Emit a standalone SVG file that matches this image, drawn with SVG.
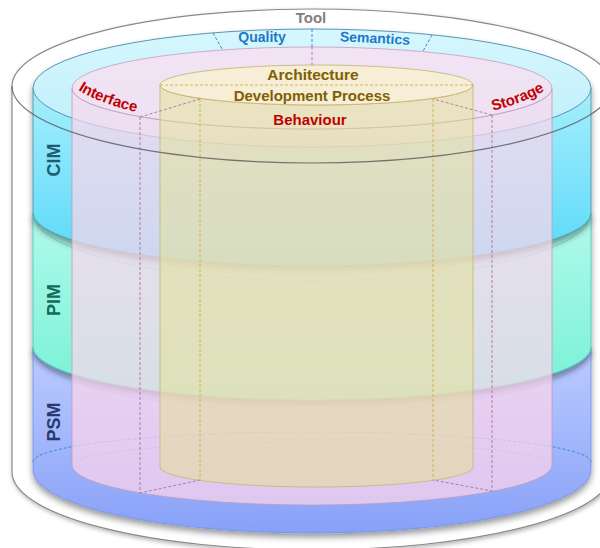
<svg xmlns="http://www.w3.org/2000/svg" width="600" height="548" viewBox="0 0 600 548">
<defs>
<filter id="sh" x="-10%" y="-10%" width="120%" height="130%"><feDropShadow dx="0" dy="4" stdDeviation="3" flood-color="#000" flood-opacity="0.4"/></filter>
<filter id="tsh" x="-10%" y="-10%" width="120%" height="120%"><feDropShadow dx="1" dy="2" stdDeviation="2" flood-color="#000" flood-opacity="0.3"/></filter>
<linearGradient id="gCIM" gradientUnits="userSpaceOnUse" x1="0" y1="88" x2="0" y2="266"><stop offset="0" stop-color="#a6eefc"/><stop offset="1" stop-color="#58d9f8"/></linearGradient>
<linearGradient id="gCIMtop" gradientUnits="userSpaceOnUse" x1="0" y1="29" x2="0" y2="147"><stop offset="0" stop-color="#d6f7fd"/><stop offset="1" stop-color="#bdeffb"/></linearGradient>
<linearGradient id="gPIM" gradientUnits="userSpaceOnUse" x1="0" y1="213" x2="0" y2="400"><stop offset="0" stop-color="#b2f9ec"/><stop offset="1" stop-color="#76f1d6"/></linearGradient>
<linearGradient id="gPSM" gradientUnits="userSpaceOnUse" x1="0" y1="347" x2="0" y2="533"><stop offset="0" stop-color="#bccbfe"/><stop offset="1" stop-color="#88a1f8"/></linearGradient>
<path id="arcL" d="M62,68 A250,62 0 0,0 312,130"/>
<path id="arcR" d="M312,130 A250,62 0 0,0 562,68"/>
</defs>
<style>
.lbl{font-family:"Liberation Sans",Arial,sans-serif;font-weight:bold;text-anchor:middle}
.arc{font-family:"Liberation Sans",Arial,sans-serif;font-weight:bold;font-size:15px;fill:#c00000}
.pd{fill:none;stroke:#b0709a;stroke-width:0.9;stroke-dasharray:3,2}
.yd{fill:none;stroke:#d4ac48;stroke-width:0.9;stroke-dasharray:3,2}
.bd{fill:none;stroke:#3a8ad0;stroke-width:1;stroke-dasharray:3,2}
</style>
<g id="tool">
<path d="M12,86 L12,472 A300,78 0 0,0 612,472 L612,86 A300,77 0 0,0 12,86 Z" fill="#fff" stroke="#8a8a8a" stroke-width="1.2" filter="url(#tsh)"/>
</g>
<g id="psm" filter="url(#sh)">
<path d="M33,347 L33,470 A279,63 0 0,0 591,470 L591,347 Z" fill="url(#gPSM)" stroke="#6f8fe8" stroke-width="0.8"/>
</g>
<path d="M33,347 A279,65 0 0,0 591,347" fill="none" stroke="#7aa0f0" stroke-width="0.8" opacity="0.6"/>
<g id="pim" filter="url(#sh)">
<path d="M33,213 L33,347 A279,53 0 0,0 591,347 L591,213 Z" fill="url(#gPIM)" stroke="#3cc8b0" stroke-width="0.8"/>
</g>
<path d="M33,213 A279,68 0 0,0 591,213" fill="none" stroke="#3ed6bc" stroke-width="0.8" opacity="0.7"/>
<g id="cim" filter="url(#sh)">
<path d="M33,88 L33,213 A279,53 0 0,0 591,213 L591,88 Z" fill="url(#gCIM)" stroke="#4a8aa0" stroke-width="0.8"/>
<ellipse cx="312" cy="88" rx="279" ry="59" fill="url(#gCIMtop)" stroke="#4a8aa8" stroke-width="0.9"/>
</g>
<g id="connectors-back">
<path class="bd" d="M33,462 A279,30 0 0,1 591,462" stroke="#6aa0e0" stroke-width="0.8" stroke-dasharray="2,2"/>
<path class="pd" d="M72,465 A240,23 0 0,1 552,465"/>
<path class="yd" d="M160,467 A156.5,17 0 0,1 473,467"/>
<line class="yd" x1="160" y1="467" x2="473" y2="467"/>
<line x1="312" y1="442" x2="312" y2="450" stroke="#c07aa8" stroke-width="0.8"/>
</g>
<g id="interface-storage">
<path d="M72,88 A240,41 0 0,0 552,88 L552,465 A240,40 0 0,1 72,465 Z" fill="#ffd6ec" fill-opacity="0.7" stroke="#c29ab8" stroke-width="0.8"/>
<ellipse cx="312" cy="88" rx="240" ry="41" fill="#ffdcef" fill-opacity="0.7" stroke="#c89ac0" stroke-width="0.8"/>
</g>
<g id="behaviour">
<path d="M160,85 A156.5,20 0 0,0 473,85 L473,467 A156.5,20 0 0,1 160,467 Z" fill="#e4e48c" fill-opacity="0.48" stroke="#c8b46a" stroke-width="0.8"/>
<ellipse cx="316.5" cy="85" rx="156.5" ry="20" fill="#f8f2cc" fill-opacity="0.75" stroke="#c8b070" stroke-width="0.8"/>
</g>
<g id="connectors">
<line class="yd" x1="160" y1="85" x2="473" y2="85"/>
<path class="pd" d="M140,117 L200,99 M140,117 L140,493 L200,480"/>
<path class="pd" d="M492,115 L433,99 M492,115 L492,491 L433,480"/>
<path class="yd" d="M200,99 L200,480 M433,99 L433,480"/>
<line class="bd" x1="312" y1="29" x2="312" y2="47"/>
<line class="pd" x1="312" y1="47" x2="312" y2="65"/>
<line class="bd" x1="213" y1="33" x2="222" y2="49"/>
<line class="bd" x1="432" y1="35" x2="423" y2="51"/>
</g>
<g id="tool-front">
<path d="M12,86 A300,77 0 0,0 612,86" fill="none" stroke="#505050" stroke-width="1.2" opacity="0.75"/>
</g>
<g id="labels">
<text class="lbl" x="311" y="23" font-size="15" fill="#808080">Tool</text>
<text class="lbl" x="262" y="42" font-size="14" fill="#1f78c8">Quality</text>
<text class="lbl" x="375" y="43" font-size="14" fill="#1f78c8" transform="rotate(3,375,38)">Semantics</text>
<text class="lbl" x="313" y="80" font-size="15.5" fill="#806000">Architecture</text>
<text class="lbl" x="312" y="101" font-size="15" fill="#806000">Development Process</text>
<text class="lbl" x="310" y="125" font-size="15" fill="#c00000">Behaviour</text>
<text class="arc"><textPath href="#arcL" startOffset="28">Interface</textPath></text>
<text class="arc" text-anchor="end"><textPath href="#arcR" startOffset="238">Storage</textPath></text>
<text class="lbl" font-size="18" fill="#1d5c73" transform="translate(53,160) rotate(-90)" x="0" y="6.5">CIM</text>
<text class="lbl" font-size="18" fill="#146b58" transform="translate(53,300) rotate(-90)" x="0" y="6.5">PIM</text>
<text class="lbl" font-size="18" fill="#26396b" transform="translate(53,422) rotate(-90)" x="0" y="6.5">PSM</text>
</g>
</svg>
